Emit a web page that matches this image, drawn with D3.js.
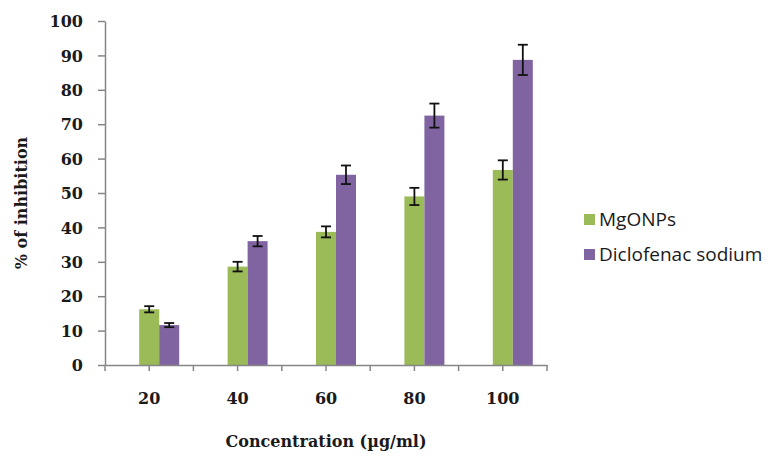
<!DOCTYPE html>
<html>
<head>
<meta charset="utf-8">
<script src="https://cdn.jsdelivr.net/npm/d3@7"></script>
<style>
  body { margin: 0; background: #fff; }
  .tick-label { font-family: "DejaVu Serif", serif; font-weight: bold; font-size: 16px; fill: #1a1a1a; }
  .axis-title { font-family: "DejaVu Serif", serif; font-weight: bold; font-size: 16px; fill: #1a1a1a; }
  .legend-label { font-family: "Open Sans", sans-serif; font-size: 19px; fill: #1a1a1a; }
</style>
</head>
<body>
<div id="container"></div>
<script>
/* CONSTANTS AND GLOBALS */
const width = 774,
  height = 458,
  margin = { top: 21, bottom: 93, left: 105, right: 227 };

// chart data
const concentrations = ["20", "40", "60", "80", "100"];
const seriesNames = ["MgONPs", "Diclofenac sodium"];
const mgonps = [16.2, 28.6, 38.7, 49.0, 56.7];
const mgonpsErr = [0.9, 1.4, 1.6, 2.5, 2.8];
const diclofenac = [11.6, 36.0, 55.3, 72.5, 88.7];
const diclofenacErr = [0.6, 1.5, 2.7, 3.5, 4.4];
const yTicks = [0, 10, 20, 30, 40, 50, 60, 70, 80, 90, 100];

const colors = { "MgONPs": "#9BBB59", "Diclofenac sodium": "#8064A2" };

// rows for drawing
const rows = concentrations.map((c, i) => ({
  conc: c,
  bars: [
    { name: "MgONPs", value: mgonps[i], err: mgonpsErr[i] },
    { name: "Diclofenac sodium", value: diclofenac[i], err: diclofenacErr[i] }
  ]
}));

/* SCALES */
const xScale = d3.scaleBand()
  .domain(concentrations)
  .range([margin.left, width - margin.right])
  .padding(0);

// excel leaves an empty slot in front of the two bars
const xInner = d3.scaleBand()
  .domain(["", ...seriesNames])
  .range([0, xScale.bandwidth()])
  .paddingInner(0)
  .paddingOuter(0.71);

const yScale = d3.scaleLinear()
  .domain([0, 100])
  .range([height - margin.bottom, margin.top]);

const svg = d3.select("#container")
  .append("svg")
  .attr("width", width)
  .attr("height", height);

/* BARS */
const groups = svg.selectAll("g.group")
  .data(rows)
  .join("g")
  .attr("class", "group")
  .attr("transform", d => `translate(${xScale(d.conc)},0)`);

groups.selectAll("rect.bar")
  .data(d => d.bars)
  .join("rect")
  .attr("class", "bar")
  .attr("x", d => xInner(d.name))
  .attr("width", xInner.bandwidth())
  .attr("y", d => yScale(d.value))
  .attr("height", d => yScale(0) - yScale(d.value))
  .attr("fill", d => colors[d.name]);

// error bars
const capW = 10;
const err = groups.selectAll("g.err")
  .data(d => d.bars)
  .join("g")
  .attr("class", "err")
  .attr("stroke", "#111")
  .attr("stroke-width", 1.8);

err.append("line")
  .attr("x1", d => xInner(d.name) + xInner.bandwidth() / 2)
  .attr("x2", d => xInner(d.name) + xInner.bandwidth() / 2)
  .attr("y1", d => yScale(d.value - d.err))
  .attr("y2", d => yScale(d.value + d.err));

[-1, 1].forEach(s => {
  err.append("line")
    .attr("x1", d => xInner(d.name) + xInner.bandwidth() / 2 - capW / 2)
    .attr("x2", d => xInner(d.name) + xInner.bandwidth() / 2 + capW / 2)
    .attr("y1", d => yScale(d.value + s * d.err))
    .attr("y2", d => yScale(d.value + s * d.err));
});

/* AXES */
const yAxis = d3.axisLeft(yScale)
  .tickValues(yTicks)
  .tickSize(7)
  .tickPadding(15)
  .tickSizeOuter(0);

const yG = svg.append("g")
  .attr("transform", `translate(${margin.left},0)`)
  .call(yAxis);
yG.select(".domain").attr("stroke", "#868686").attr("stroke-width", 1.5);
yG.selectAll(".tick line").attr("stroke", "#868686").attr("stroke-width", 1.5);
yG.selectAll(".tick text").attr("class", "tick-label").attr("dy", "0.35em");

const xAxis = d3.axisBottom(xScale)
  .tickSize(0)
  .tickPadding(28)
  .tickSizeOuter(0);

const xG = svg.append("g")
  .attr("transform", `translate(0,${height - margin.bottom})`)
  .call(xAxis);
xG.select(".domain").attr("stroke", "#868686").attr("stroke-width", 1.5);
xG.selectAll(".tick text").attr("class", "tick-label");

// tick marks at band edges and band centres
const xTickPos = [];
concentrations.forEach(c => {
  xTickPos.push(xScale(c));
  xTickPos.push(xScale(c) + xScale.bandwidth() / 2);
});
xTickPos.push(xScale(concentrations[concentrations.length - 1]) + xScale.bandwidth());

xG.selectAll("line.mark")
  .data(xTickPos)
  .join("line")
  .attr("class", "mark")
  .attr("x1", d => d)
  .attr("x2", d => d)
  .attr("y1", 0)
  .attr("y2", 6)
  .attr("stroke", "#868686")
  .attr("stroke-width", 1.5);

/* AXIS TITLES */
svg.append("text")
  .attr("class", "axis-title")
  .attr("x", (margin.left + width - margin.right) / 2)
  .attr("y", 447)
  .attr("text-anchor", "middle")
  .text("Concentration (µg/ml)");

svg.append("text")
  .attr("class", "axis-title")
  .attr("transform", "rotate(-90)")
  .attr("x", -203)
  .attr("y", 27)
  .attr("text-anchor", "middle")
  .text("% of inhibition");

/* LEGEND */
const legend = svg.selectAll("g.legend")
  .data(seriesNames)
  .join("g")
  .attr("class", "legend")
  .attr("transform", (d, i) => `translate(584,${214 + i * 35})`);

legend.append("rect")
  .attr("width", 11)
  .attr("height", 11)
  .attr("fill", d => colors[d]);

legend.append("text")
  .attr("class", "legend-label")
  .attr("x", 15)
  .attr("y", 12)
  .text(d => d);
</script>
</body>
</html>
